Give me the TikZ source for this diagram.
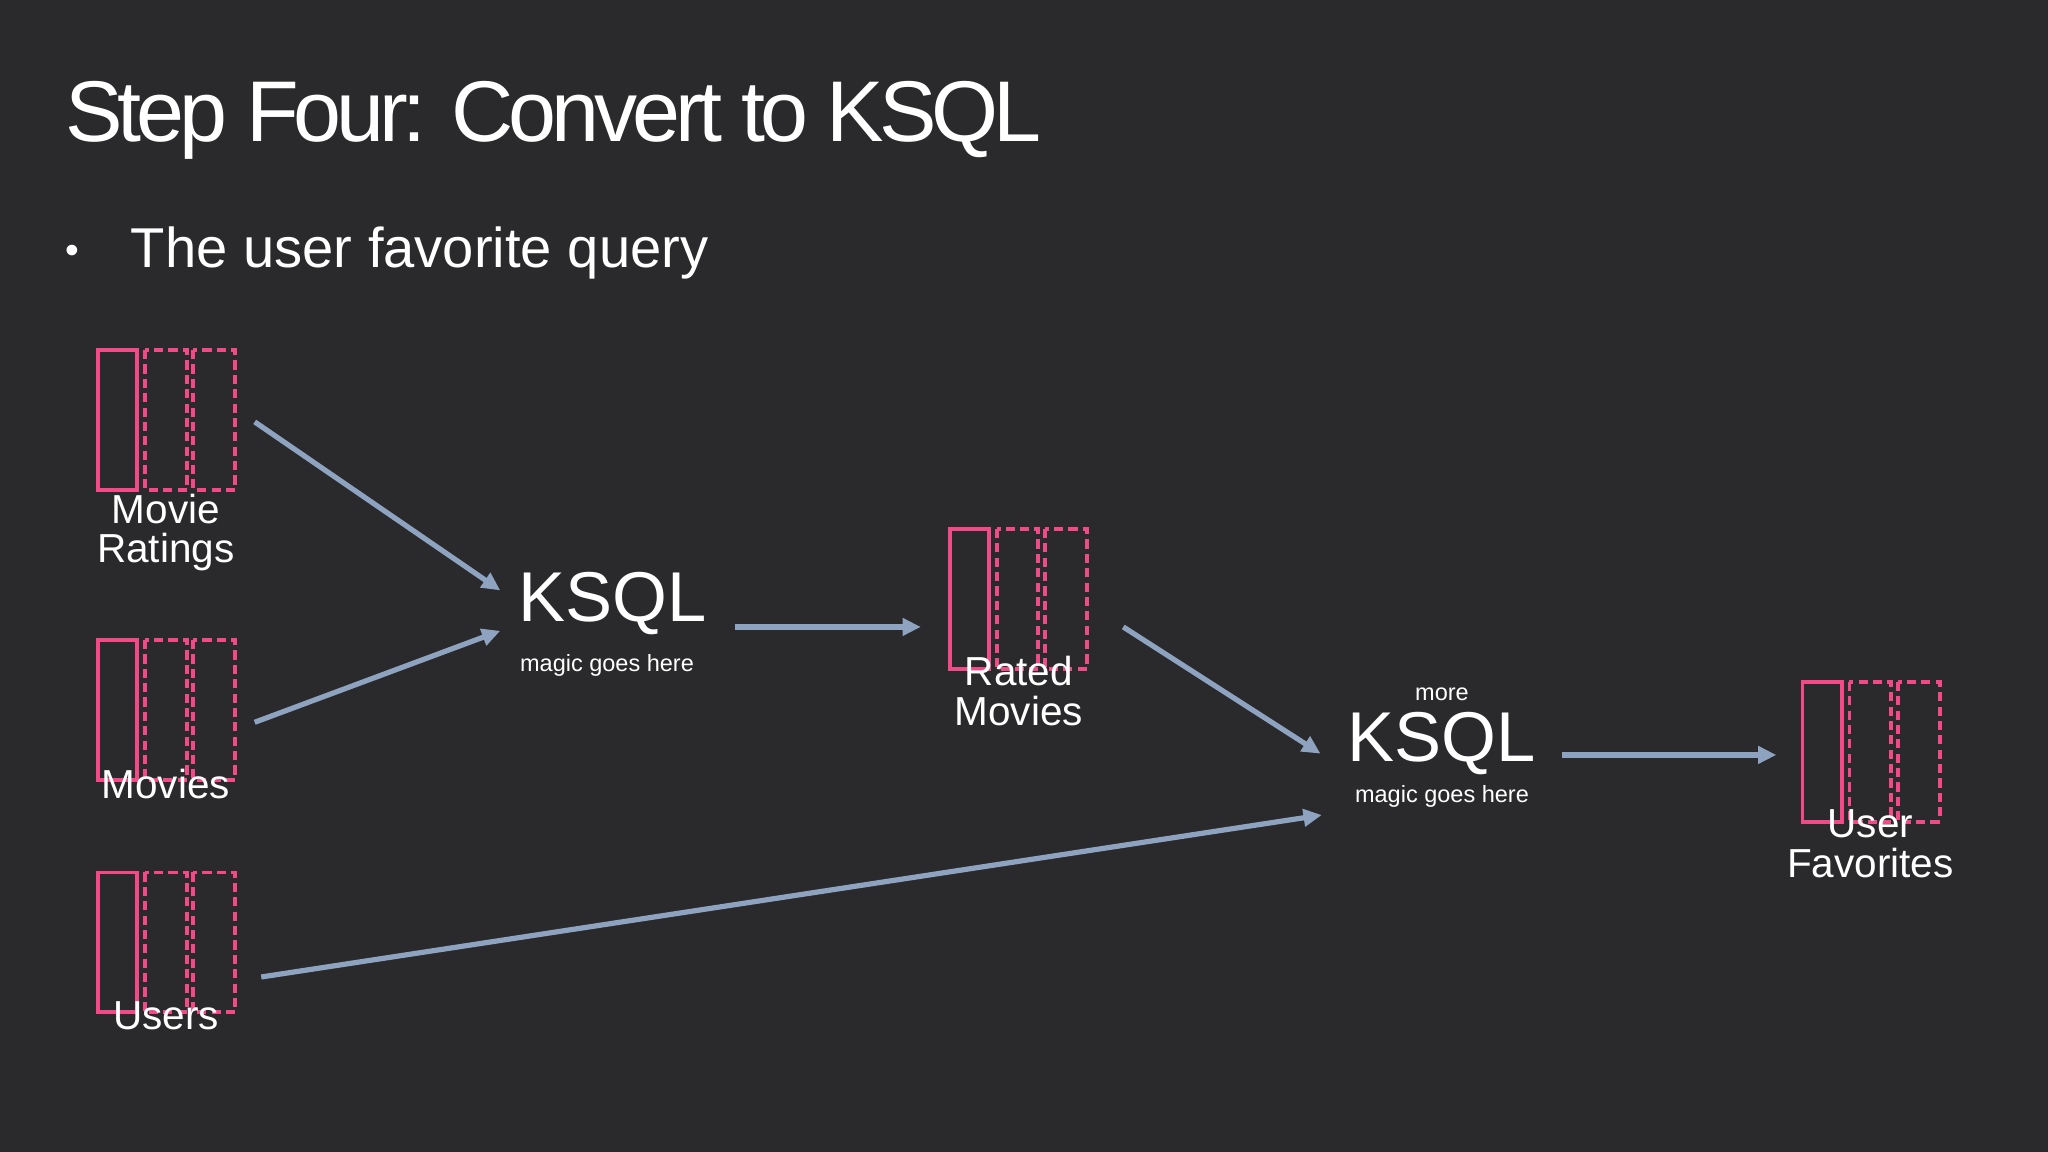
\documentclass[tikz,border=0pt]{standalone}
\usepackage{fontspec}
\setmainfont{Liberation Sans}
\usetikzlibrary{arrows.meta}
\definecolor{bg}{HTML}{2A2A2C}
\definecolor{pk}{HTML}{F04B86}
\definecolor{ar}{HTML}{8EA3BF}
\begin{document}
\begin{tikzpicture}[x=1pt,y=-1pt,
  conn/.style={draw=ar,line width=4pt,-{Triangle[length=14pt,width=13pt]}},
  lbl/.style={text=white,font=\fontsize{31}{30}\selectfont,align=center,inner sep=0},
  sm/.style={text=white,font=\fontsize{18}{20}\selectfont,inner sep=0},
  big/.style={text=white,font=\fontsize{54}{56}\selectfont,inner sep=0},
  pics/topic/.style={code={
    \draw[pk,line width=3pt] (0,0) rectangle (30,107);
    \draw[pk,line width=3pt,dash pattern=on 7pt off 4pt] (36,0) rectangle (68,107);
    \draw[pk,line width=3pt,dash pattern=on 7pt off 4pt] (73,0) rectangle (105,107);
  }}]
\fill[bg] (0,0) rectangle (1568,882);
\useasboundingbox (0,0) rectangle (1568,882);
\node[anchor=base west,text=white,inner sep=0,font=\fontsize{66}{70}\selectfont] (title) at (50,108) {\addfontfeature{LetterSpace=-6}Step Four: Convert to KSQL};
\node[anchor=base west,text=white,inner sep=0,font=\fontsize{30}{30}\selectfont] (bul) at (50,202) {•};
\node[anchor=base west,text=white,inner sep=0,font=\fontsize{43}{45}\selectfont] (sub) at (100,205) {The user favorite query};

\pic at (75,268) {topic};
\pic at (75,490) {topic};
\pic at (75,668) {topic};
\pic at (727,405) {topic};
\pic at (1380,522) {topic};

\node[lbl] (mr) at (127,408) {Movie\\Ratings};
\node[lbl] (mv) at (127,600) {Movies};
\node[lbl] (us) at (127,778) {Users};
\node[lbl] (rm) at (780,529) {Rated\\Movies};
\node[lbl] (uf) at (1432,646) {User\\Favorites};

\node[big,anchor=base west] (k1) at (397,476) {KSQL};
\node[sm,anchor=base west] (m1) at (398,514) {magic goes here};
\node[sm,anchor=base] (more) at (1104,536) {more};
\node[big,anchor=base] (k2) at (1104,583) {KSQL};
\node[sm] (m2) at (1104,610) {magic goes here};

\coordinate (a1s) at (195,323); \coordinate (a1e) at (383,452);
\coordinate (a2s) at (195,553); \coordinate (a2e) at (383,483);
\coordinate (a3s) at (563,480); \coordinate (a3e) at (705,480);
\coordinate (a4s) at (860,480); \coordinate (a4e) at (1011,577);
\coordinate (a5s) at (200,748); \coordinate (a5e) at (1012,624);
\coordinate (a6s) at (1196,578); \coordinate (a6e) at (1360,578);
\foreach \i in {1,...,6} \draw[conn] (a\i s) -- (a\i e);
\end{tikzpicture}
\end{document}
